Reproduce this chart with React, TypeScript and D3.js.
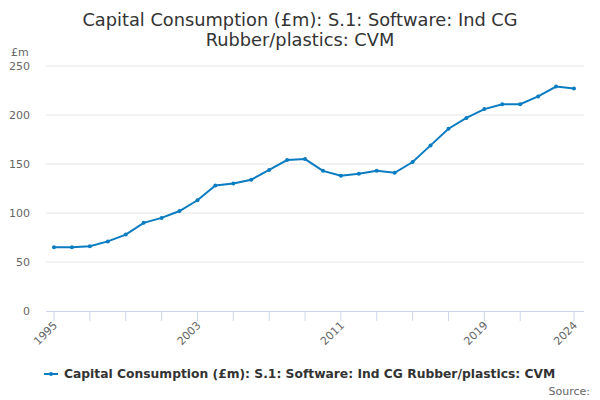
import { useRef, useEffect } from "react";
import * as d3 from "d3";

const years = [
    1995, 1996, 1997, 1998, 1999, 2000, 2001, 2002, 2003, 2004,
    2005, 2006, 2007, 2008, 2009, 2010, 2011, 2012, 2013, 2014,
    2015, 2016, 2017, 2018, 2019, 2020, 2021, 2022, 2023, 2024,
];
const values = [
    65, 65, 66, 71, 78, 90, 95, 102, 113, 128,
    130, 134, 144, 154, 155, 143, 138, 140, 143, 141,
    152, 169, 186, 197, 206, 211, 211, 219, 229, 227,
];
const yTicks = [0, 50, 100, 150, 200, 250];
const xTickMarks = [1995, 1997, 1999, 2001, 2003, 2005, 2007, 2009, 2011, 2013, 2015, 2017, 2019, 2021, 2024];
const xTickLabels = [1995, 2003, 2011, 2019, 2024];
const titleLines = ["Capital Consumption (£m): S.1: Software: Ind CG", "Rubber/plastics: CVM"];
const seriesName = "Capital Consumption (£m): S.1: Software: Ind CG Rubber/plastics: CVM";

const App = () => {
    const svgRef = useRef(null);

    useEffect(() => {
        const svg = d3.select(svgRef.current);
        svg.selectAll("*").remove();

        const width = 600;
        const font = "'DejaVu Sans', sans-serif";
        const color = "#0a7cc1";

        const x = d3.scaleLinear().domain([1995, 2024]).range([54, 574]);
        const y = d3.scaleLinear().domain([0, 250]).range([311, 66]);

        // title
        svg.append("g")
            .selectAll("text")
            .data(titleLines)
            .join("text")
            .attr("x", width / 2)
            .attr("y", (_, i) => 26 + i * 20)
            .attr("text-anchor", "middle")
            .attr("font-family", font)
            .attr("font-size", 17.8)
            .attr("fill", "#333")
            .text(d => d);

        // grid lines
        svg.append("g")
            .selectAll("line")
            .data(yTicks.filter(t => t > 0))
            .join("line")
            .attr("x1", 46)
            .attr("x2", 584)
            .attr("y1", d => y(d))
            .attr("y2", d => y(d))
            .attr("stroke", "#e6e6e6");

        // y labels
        svg.append("g")
            .selectAll("text")
            .data(yTicks)
            .join("text")
            .attr("x", 30)
            .attr("y", d => y(d) + 4)
            .attr("text-anchor", "end")
            .attr("font-family", font)
            .attr("font-size", 11)
            .attr("fill", "#666")
            .text(d => d);

        svg.append("text")
            .attr("x", 11)
            .attr("y", 56)
            .attr("font-family", font)
            .attr("font-size", 11)
            .attr("fill", "#666")
            .text("£m");

        // x axis
        svg.append("line")
            .attr("x1", 46)
            .attr("x2", 584)
            .attr("y1", 311.5)
            .attr("y2", 311.5)
            .attr("stroke", "#ccd6eb");

        svg.append("g")
            .selectAll("line")
            .data(xTickMarks)
            .join("line")
            .attr("x1", d => x(d))
            .attr("x2", d => x(d))
            .attr("y1", 311)
            .attr("y2", 321)
            .attr("stroke", "#ccd6eb");

        svg.append("g")
            .selectAll("text")
            .data(xTickLabels)
            .join("text")
            .attr("transform", d => `translate(${x(d) + 4},${326}) rotate(-45)`)
            .attr("text-anchor", "end")
            .attr("font-family", font)
            .attr("font-size", 11)
            .attr("fill", "#666")
            .text(d => d);

        // series
        const data = years.map((yr, i) => ({ yr, v: values[i] }));
        const line = d3.line<{ yr: number; v: number }>()
            .x(d => x(d.yr))
            .y(d => y(d.v));

        svg.append("path")
            .datum(data)
            .attr("fill", "none")
            .attr("stroke", color)
            .attr("stroke-width", 2)
            .attr("d", line);

        svg.append("g")
            .selectAll("circle")
            .data(data)
            .join("circle")
            .attr("cx", d => x(d.yr))
            .attr("cy", d => y(d.v))
            .attr("r", 2)
            .attr("fill", color);

        // legend
        const legend = svg.append("g");
        legend.append("line")
            .attr("x1", 44)
            .attr("x2", 58)
            .attr("y1", 374)
            .attr("y2", 374)
            .attr("stroke", color)
            .attr("stroke-width", 2);
        legend.append("circle")
            .attr("cx", 51)
            .attr("cy", 374)
            .attr("r", 2)
            .attr("fill", color);
        legend.append("text")
            .attr("x", 64)
            .attr("y", 378)
            .attr("font-family", font)
            .attr("font-size", 12.3)
            .attr("font-weight", "bold")
            .attr("fill", "#333")
            .text(seriesName);

        svg.append("text")
            .attr("x", 590)
            .attr("y", 395)
            .attr("text-anchor", "end")
            .attr("font-family", font)
            .attr("font-size", 11)
            .attr("fill", "#666")
            .text("Source:");
    }, []);

    return (
        <svg
            ref={svgRef}
            width={600}
            height={400}
            style={{ position: "absolute", left: 0, top: 0, background: "#fff" }}
        ></svg>
    );
};

export default App;
